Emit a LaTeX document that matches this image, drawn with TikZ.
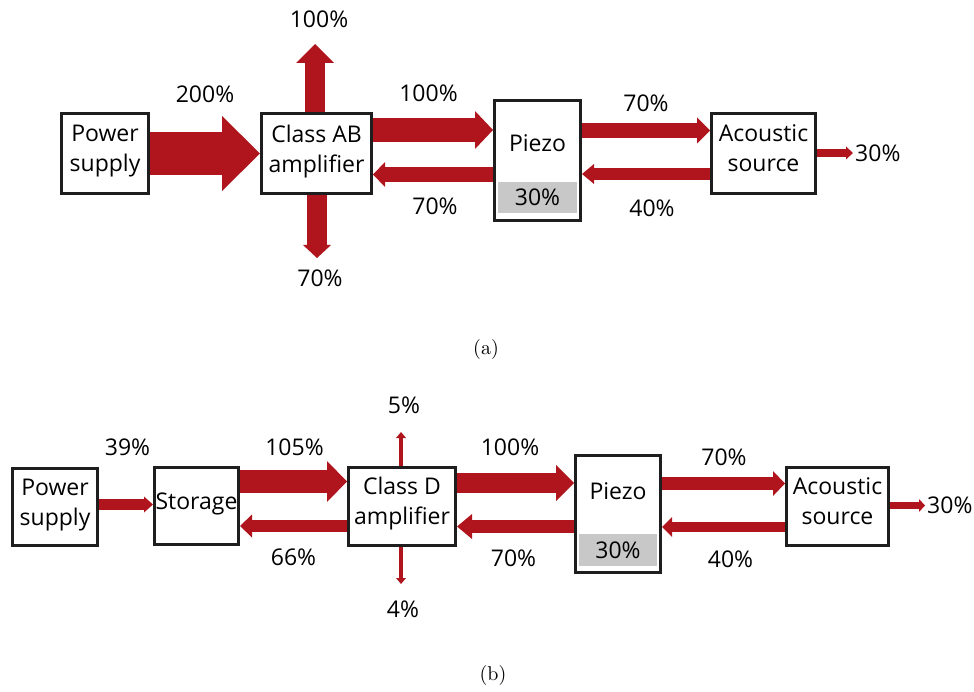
\documentclass[tikz,border=0pt]{standalone}
\usepackage{fontspec}
\usepackage{xcolor}
\usepackage{tikz}
\usetikzlibrary{arrows.meta, positioning}
\newfontfamily\diagfont{Open Sans}
\newfontfamily\capfont{lmroman10-regular}[Extension=.otf]
\definecolor{flowred}{RGB}{176,21,30}
\definecolor{boxline}{RGB}{30,30,30}
\definecolor{lossgray}{RGB}{200,200,200}
\tikzset{
  blocknode/.style={draw=boxline, line width=3pt, rectangle, inner sep=0pt, align=center, fill=white, text depth=10pt, font=\diagfont\fontsize{23}{30}\selectfont},
  lossnode/.style={rectangle, fill=lossgray, inner sep=0pt, align=center, font=\diagfont\fontsize{23}{28}\selectfont},
  labelnode/.style={inner sep=0pt, font=\diagfont\fontsize{23}{28}\selectfont},
  captionnode/.style={inner sep=0pt, font=\capfont\fontsize{20}{24}\selectfont},
  flowarrow/.style n args={3}{draw=flowred, line width=#1, -{Triangle[width=#2, length=#3, line width=0pt]}}
}

\begin{document}
\begin{tikzpicture}[x=1pt, y=-1pt]
\useasboundingbox (0,0) rectangle (974,692);

% Nodes (a)
\node[blocknode, minimum width=87pt, minimum height=80pt] (psA) at (105,153.5) {Power\\supply};
\node[blocknode, minimum width=110pt, minimum height=80pt, right=110pt of psA] (abA) {Class AB\\amplifier};
\node[blocknode, minimum width=86pt, minimum height=120pt, right=120pt of abA, yshift=-7pt] (pzA) {};
\node[blocknode, minimum width=104pt, minimum height=80pt, right=128pt of pzA, yshift=7pt] (acA) {Acoustic\\source};
\node[labelnode] (pzAtext) at ([yshift=-44pt]pzA.north) {Piezo};
\node[lossnode, minimum width=79pt, minimum height=31pt, above=9pt of pzA.south] (lossA) {30\%};
\coordinate (upA) at (315,44);
\coordinate (downA) at (317,258);
\coordinate (outA) at (853,153);

% Edges (a)
\draw[flowarrow={43pt}{75pt}{38pt}] (psA.east) -- (abA.west);
\draw[flowarrow={20pt}{38pt}{19pt}] (abA.north -| upA) -- (upA);
\draw[flowarrow={20pt}{28pt}{13pt}] (abA.south -| downA) -- (downA);
\draw[flowarrow={24pt}{38pt}{18pt}] (abA.east |- 0,130) -- (pzA.west |- 0,130);
\draw[flowarrow={15pt}{25pt}{12pt}] (pzA.west |- 0,174.5) -- (abA.east |- 0,174.5);
\draw[flowarrow={15pt}{26pt}{13pt}] (pzA.east |- 0,130.5) -- (acA.west |- 0,130.5);
\draw[flowarrow={12pt}{20pt}{12pt}] (acA.west |- 0,174) -- (pzA.east |- 0,174);
\draw[flowarrow={8pt}{13pt}{7pt}] (acA.east |- outA) -- (outA);

% Labels (a)
\node[labelnode] (l200A) at (205,94) {200\%};
\node[labelnode] (l100upA) at (319,19.5) {100\%};
\node[labelnode] (l70downA) at (320,278) {70\%};
\node[labelnode] (l100A) at (428.5,93.5) {100\%};
\node[labelnode] (l70backA) at (435,206.5) {70\%};
\node[labelnode] (l70A) at (646,103) {70\%};
\node[labelnode] (l40A) at (652,208) {40\%};
\node[labelnode, right=2pt of outA] (l30A) {30\%};
\node[captionnode] (capA) at (486,350) {(a)};

% Nodes (b)
\node[blocknode, minimum width=85pt, minimum height=77pt] (psB) at (55,507) {Power\\supply};
\node[blocknode, minimum width=84pt, minimum height=77pt, right=54pt of psB, yshift=1pt] (stB) {Storage};
\node[blocknode, minimum width=107pt, minimum height=78pt, right=107pt of stB] (cdB) {Class D\\amplifier};
\node[blocknode, minimum width=85pt, minimum height=117pt, right=117pt of cdB, yshift=-7.5pt] (pzB) {};
\node[blocknode, minimum width=102pt, minimum height=78pt, right=123pt of pzB, yshift=7.5pt] (acB) {Acoustic\\source};
\node[labelnode] (pzBtext) at ([yshift=-37.5pt]pzB.north) {Piezo};
\node[lossnode, minimum width=78pt, minimum height=32pt, above=7pt of pzB.south] (lossB) {30\%};
\coordinate (upB) at (401,432);
\coordinate (downB) at (401,584);
\coordinate (outB) at (925,505.5);

% Edges (b)
\draw[flowarrow={11pt}{16pt}{9pt}] (psB.east |- 0,504.5) -- (stB.west |- 0,504.5);
\draw[flowarrow={23pt}{41pt}{20pt}] (stB.east |- 0,481.5) -- (cdB.west |- 0,481.5);
\draw[flowarrow={12pt}{23pt}{12pt}] (cdB.west |- 0,526) -- (stB.east |- 0,526);
\draw[flowarrow={4pt}{10pt}{6pt}] (cdB.north -| upB) -- (upB);
\draw[flowarrow={4pt}{10pt}{6pt}] (cdB.south -| downB) -- (downB);
\draw[flowarrow={20pt}{36pt}{18pt}] (cdB.east |- 0,483) -- (pzB.west |- 0,483);
\draw[flowarrow={13pt}{25pt}{15pt}] (pzB.west |- 0,526.5) -- (cdB.east |- 0,526.5);
\draw[flowarrow={13pt}{25pt}{12pt}] (pzB.east |- 0,483.5) -- (acB.west |- 0,483.5);
\draw[flowarrow={10pt}{20pt}{10pt}] (acB.west |- 0,527) -- (pzB.east |- 0,527);
\draw[flowarrow={7pt}{13pt}{6pt}] (acB.east |- outB) -- (outB);

% Labels (b)
\node[labelnode] (l39B) at (127.5,447.5) {39\%};
\node[labelnode] (l105B) at (294.5,447.5) {105\%};
\node[labelnode] (l66B) at (293.5,557.5) {66\%};
\node[labelnode] (l5B) at (404,405) {5\%};
\node[labelnode] (l4B) at (403,609.5) {4\%};
\node[labelnode] (l100B) at (510,447.5) {100\%};
\node[labelnode] (l70backB) at (513.5,558.5) {70\%};
\node[labelnode] (l70B) at (724,457.5) {70\%};
\node[labelnode] (l40B) at (730.5,559.5) {40\%};
\node[labelnode, right=2pt of outB] (l30B) {30\%};
\node[captionnode] (capB) at (493,675) {(b)};

\end{tikzpicture}
\end{document}
